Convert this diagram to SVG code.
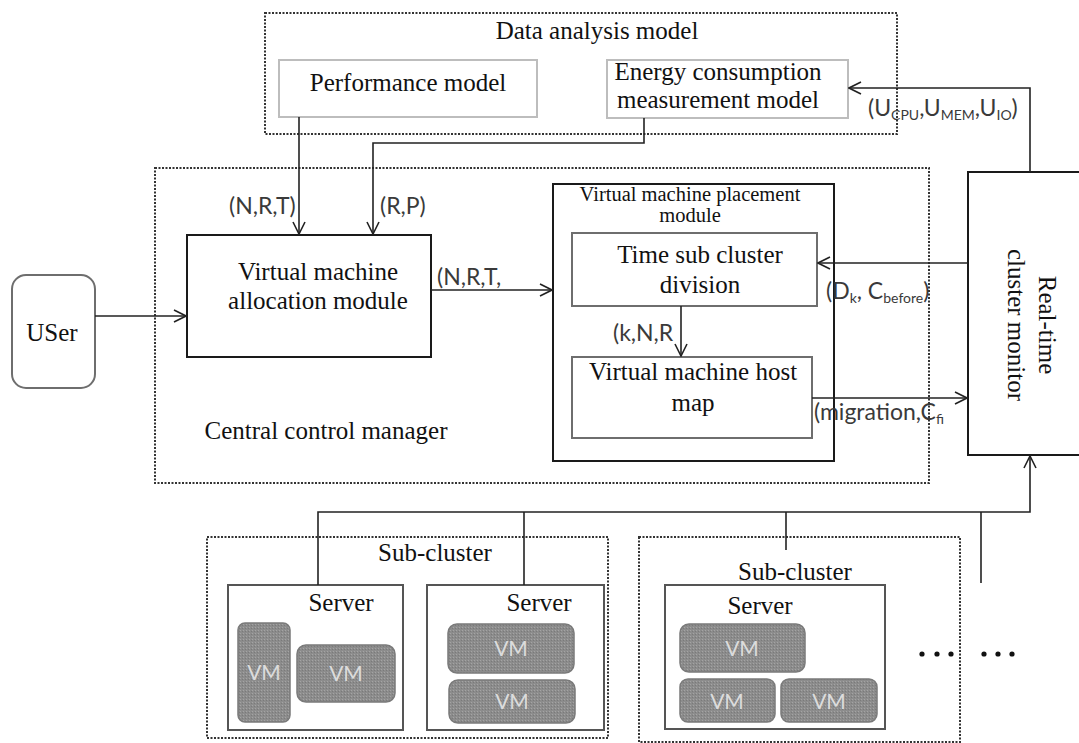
<svg xmlns="http://www.w3.org/2000/svg" width="1079" height="743" viewBox="0 0 1079 743">
  <defs>
    <marker id="arr" viewBox="0 0 14 14" refX="13" refY="7" markerWidth="14" markerHeight="14" markerUnits="userSpaceOnUse" orient="auto">
      <path d="M1,1 L13,7 L1,13" fill="none" stroke="#222" stroke-width="1.6"/>
    </marker>
    <pattern id="grain" width="3" height="3" patternUnits="userSpaceOnUse">
      <rect width="3" height="3" fill="#8c8c8c"/>
      <rect x="0" y="0" width="1" height="1" fill="#a4a4a4"/>
      <rect x="2" y="1" width="1" height="1" fill="#7a7a7a"/>
    </pattern>
  </defs>
  <style>
    .serif { font-family: "Liberation Serif", "Times New Roman", serif; fill: #111; font-size: 25px; text-anchor: middle; }
    .small { font-size: 20.5px; }
    .lbl { font-family: "Lato", "Liberation Sans", sans-serif; fill: #3a3a3a; font-size: 23px; }
    .sub { font-size: 14px; }
    .dot { fill: none; stroke: #333; stroke-width: 2; stroke-dasharray: 2 1.5; }
    .soft { fill: #fff; stroke: #bdbdbd; stroke-width: 2; }
    .mid { fill: #fff; stroke: #6e6e6e; stroke-width: 2; }
    .solid { fill: #fff; stroke: #1a1a1a; stroke-width: 2; }
    .srv { fill: #fff; stroke: #555; stroke-width: 2; }
    .vm { fill: url(#grain); stroke: #7a7a7a; stroke-width: 1.5; }
    .vmt { font-family: "Lato", "Liberation Sans", sans-serif; font-size: 21px; fill: #dcdcdc; text-anchor: middle; }
    .line { fill: none; stroke: #222; stroke-width: 1.6; }
  </style>

  <rect width="1079" height="743" fill="#fff"/>

  <!-- data analysis model -->
  <g id="data-analysis">
    <rect class="dot" x="265" y="13" width="632" height="121"/>
    <text class="serif" x="597" y="39">Data analysis model</text>
  </g>
  <g id="performance-model">
    <rect class="soft" x="279" y="60" width="258" height="57"/>
    <text class="serif" x="408" y="91">Performance model</text>
  </g>
  <g id="energy-model">
    <rect class="soft" x="607" y="60" width="241" height="58"/>
    <text class="serif" x="718" y="80">Energy consumption</text>
    <text class="serif" x="718" y="108">measurement model</text>
  </g>

  <!-- central control manager -->
  <g id="central-control">
    <rect class="dot" x="155" y="168" width="774" height="315"/>
    <text class="serif" x="326" y="439">Central control manager</text>
  </g>
  <g id="user">
    <rect class="mid" x="12" y="275" width="83" height="113" rx="14" stroke="#444"/>
    <text class="serif" x="52" y="341">USer</text>
  </g>
  <g id="allocation-module">
    <rect class="solid" x="187" y="235" width="244" height="122"/>
    <text class="serif" x="318" y="280">Virtual machine</text>
    <text class="serif" x="318" y="309">allocation module</text>
  </g>
  <g id="placement-module">
    <rect class="solid" x="553" y="184" width="281" height="277"/>
    <text class="serif small" x="690" y="201">Virtual machine placement</text>
    <text class="serif small" x="690" y="222">module</text>
  </g>
  <g id="time-sub-cluster">
    <rect class="mid" x="572" y="233" width="245" height="73"/>
    <text class="serif" x="700" y="263">Time sub cluster</text>
    <text class="serif" x="700" y="293">division</text>
  </g>
  <g id="host-map">
    <rect class="mid" x="572" y="357" width="240" height="81"/>
    <text class="serif" x="693" y="380">Virtual machine host</text>
    <text class="serif" x="693" y="411">map</text>
  </g>
  <g id="cluster-monitor">
    <rect class="solid" x="968" y="172" width="120" height="283"/>
    <text class="serif" transform="translate(1039,325) rotate(90)">Real-time</text>
    <text class="serif" transform="translate(1008,325) rotate(90)">cluster monitor</text>
  </g>

  <!-- sub-clusters -->
  <g id="sub-cluster-1">
    <rect class="dot" x="207" y="537" width="401" height="201"/>
    <text class="serif" x="435" y="561">Sub-cluster</text>
  </g>
  <g id="server-1">
    <rect class="srv" x="228" y="585" width="175" height="145"/>
    <text class="serif" x="341" y="611">Server</text>
    <rect class="vm" x="238" y="623" width="52" height="99" rx="7"/>
    <text class="vmt" x="264" y="680">VM</text>
    <rect class="vm" x="297" y="645" width="98" height="57" rx="9"/>
    <text class="vmt" x="346" y="681">VM</text>
  </g>
  <g id="server-2">
    <rect class="srv" x="427" y="585" width="177" height="145"/>
    <text class="serif" x="539" y="611">Server</text>
    <rect class="vm" x="448" y="624" width="126" height="49" rx="9"/>
    <text class="vmt" x="511" y="656">VM</text>
    <rect class="vm" x="449" y="680" width="126" height="43" rx="9"/>
    <text class="vmt" x="512" y="709">VM</text>
  </g>
  <g id="sub-cluster-2">
    <rect class="dot" x="639" y="537" width="321" height="205"/>
    <text class="serif" x="795" y="580">Sub-cluster</text>
  </g>
  <g id="server-3">
    <rect class="srv" x="665" y="585" width="220" height="144"/>
    <text class="serif" x="760" y="614">Server</text>
    <rect class="vm" x="680" y="624" width="125" height="48" rx="9"/>
    <text class="vmt" x="742" y="656">VM</text>
    <rect class="vm" x="680" y="679" width="95" height="43" rx="8"/>
    <text class="vmt" x="727" y="709">VM</text>
    <rect class="vm" x="781" y="679" width="96" height="43" rx="8"/>
    <text class="vmt" x="829" y="709">VM</text>
  </g>
  <g id="ellipsis" fill="#111">
    <circle cx="922" cy="654" r="2.6"/><circle cx="937" cy="654" r="2.6"/><circle cx="951" cy="654" r="2.6"/>
    <circle cx="984" cy="654" r="2.6"/><circle cx="998" cy="654" r="2.6"/><circle cx="1012" cy="654" r="2.6"/>
  </g>

  <!-- connectors -->
  <g id="connectors">
    <path class="line" d="M299,117 V234" marker-end="url(#arr)"/>
    <path class="line" d="M644,118 V143 H373 V234" marker-end="url(#arr)"/>
    <path class="line" d="M95,316 H186" marker-end="url(#arr)"/>
    <path class="line" d="M431,290 H552" marker-end="url(#arr)"/>
    <path class="line" d="M681,306 V356" marker-end="url(#arr)"/>
    <path class="line" d="M968,263 H818" marker-end="url(#arr)"/>
    <path class="line" d="M812,398 H967" marker-end="url(#arr)"/>
    <path class="line" d="M1030,172 V88 H849" marker-end="url(#arr)"/>
    <path class="line" d="M318,585 V512 H1030 V456" marker-end="url(#arr)"/>
    <path class="line" d="M524,512 V585"/>
    <path class="line" d="M786,512 V550"/>
    <path class="line" d="M981,512 V583"/>

    <text class="lbl" x="229" y="214">(N,R,T)</text>
    <text class="lbl" x="380" y="214">(R,P)</text>
    <text class="lbl" x="437" y="285">(N,R,T,</text>
    <text class="lbl" x="613" y="341">(k,N,R</text>
    <text class="lbl" x="826" y="299">(D<tspan class="sub" dy="4">k</tspan><tspan dy="-4">, C</tspan><tspan class="sub" dy="4">before</tspan><tspan dy="-4">)</tspan></text>
    <text class="lbl" x="814" y="420">(migration,C<tspan class="sub" dy="4">fi</tspan></text>
    <text class="lbl" x="868" y="116">(U<tspan class="sub" dy="4">CPU</tspan><tspan dy="-4">,U</tspan><tspan class="sub" dy="4">MEM</tspan><tspan dy="-4">,U</tspan><tspan class="sub" dy="4">IO</tspan><tspan dy="-4">)</tspan></text>
  </g>
</svg>
